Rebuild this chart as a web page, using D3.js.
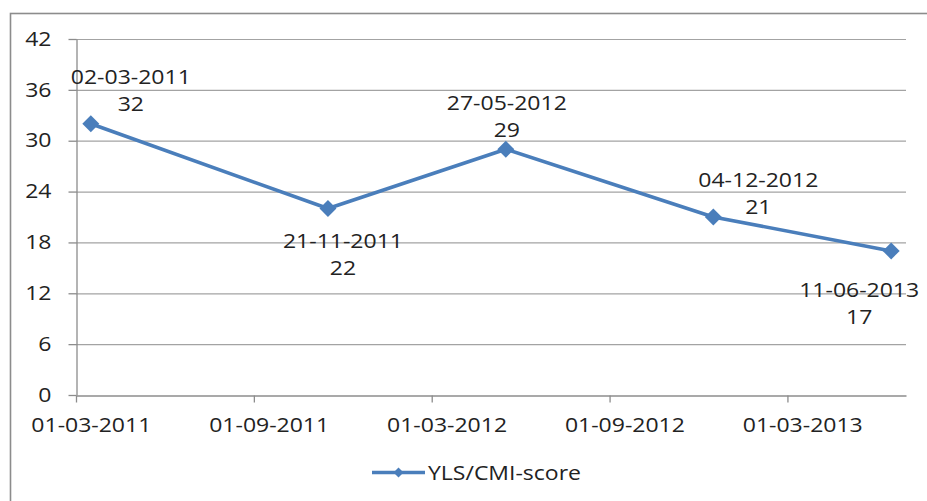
<!DOCTYPE html>
<html>
<head>
<meta charset="utf-8">
<script src="https://cdn.jsdelivr.net/npm/d3@7"></script>
<style>
  html, body { margin: 0; padding: 0; background: #fff; }
  svg { display: block; }
  text { font-family: "Open Sans", "Noto Sans", sans-serif; font-size: 19.5px; fill: #222; }
  .sx-mid { transform-box: fill-box; transform-origin: center; transform: scaleX(1.18); }
  .sx-end { transform-box: fill-box; transform-origin: right center; transform: scaleX(1.18); }
  .sx-start { transform-box: fill-box; transform-origin: left center; transform: scaleX(1.18); }
</style>
</head>
<body>
<svg id="chart" width="927" height="501"></svg>
<script>
// ---- data ----
const dates = ["02-03-2011", "21-11-2011", "27-05-2012", "04-12-2012", "11-06-2013"];
const scores = [32, 22, 29, 21, 17];
const yTicks = [0, 6, 12, 18, 24, 30, 36, 42];
const xTickLabels = ["01-03-2011", "01-09-2011", "01-03-2012", "01-09-2012", "01-03-2013"];
const axisStart = "01-03-2011";
const axisEnd = "01-07-2013";
const seriesName = "YLS/CMI-score";

// ---- layout (label placement relative to each point) ----
const labelOffsets = [[40, -47], [15, 32], [1, -46], [45, -37], [-32, 39]];
const lineGap = 27;

const parse = d3.timeParse("%d-%m-%Y");
const start = parse(axisStart);
const nMonths = d3.timeMonth.count(start, parse(axisEnd));
const monthIdx = s => d3.timeMonth.count(start, d3.timeMonth.floor(parse(s)));

const svg = d3.select("#chart");
const blue = "#4A7EBB";

// outer chart border
svg.append("rect")
  .attr("x", 10.5).attr("y", 13.5).attr("width", 940).attr("height", 520)
  .attr("fill", "none").attr("stroke", "#8c8c8c").attr("stroke-width", 1.6);

const x = d3.scaleLinear().domain([0, nMonths]).range([76, 906]);
const y = d3.scaleLinear().domain([0, 42]).range([395, 39]);
const halfMonth = (x(1) - x(0)) / 2;

// gridlines
svg.append("g").selectAll("line").data(yTicks.filter(v => v > 0)).join("line")
  .attr("x1", x(0)).attr("x2", x(nMonths))
  .attr("y1", d => y(d) + 0.5).attr("y2", d => y(d) + 0.5)
  .attr("stroke", "#a3a3a3").attr("stroke-width", 1.2);

// y axis
const gy = svg.append("g").attr("transform", `translate(${x(0) + 0.5},0)`)
  .call(d3.axisLeft(y).tickValues(yTicks).tickSize(8).tickSizeOuter(0).tickPadding(17));
// x axis
const gx = svg.append("g").attr("transform", `translate(0,${y(0) + 0.5})`)
  .call(d3.axisBottom(x).tickValues(xTickLabels.map(monthIdx))
    .tickFormat((d, i) => xTickLabels[i]).tickSize(7).tickSizeOuter(0).tickPadding(16));

[gy, gx].forEach(g => {
  g.select(".domain").attr("stroke", "#8c8c8c").attr("stroke-width", 1.3);
  g.selectAll(".tick line").attr("stroke", "#8c8c8c").attr("stroke-width", 1.3);
  g.selectAll(".tick text").attr("fill", "#222").attr("font-size", 19.5)
    .attr("font-family", '"Open Sans", "Noto Sans", sans-serif');
});
gy.selectAll(".tick text").attr("class", "sx-end");
gx.selectAll(".tick text").attr("class", "sx-mid").attr("x", halfMonth);

// series
const pts = dates.map((d, i) => ({ date: d, v: scores[i], px: x(monthIdx(d) + 0.5), py: y(scores[i]) }));

svg.append("path").datum(pts)
  .attr("d", d3.line().x(d => d.px).y(d => d.py))
  .attr("fill", "none").attr("stroke", blue).attr("stroke-width", 3.6)
  .attr("stroke-linejoin", "round");

svg.append("g").selectAll("path").data(pts).join("path")
  .attr("d", d3.symbol(d3.symbolSquare, 144))
  .attr("transform", d => `translate(${d.px},${d.py}) rotate(45)`)
  .attr("fill", blue);

// data labels
const lab = svg.append("g").selectAll("g").data(pts).join("g")
  .attr("transform", (d, i) => `translate(${d.px + labelOffsets[i][0]},${d.py + labelOffsets[i][1]})`);
lab.append("text").attr("class", "sx-mid").attr("text-anchor", "middle").attr("dy", "0.36em")
  .text(d => d.date);
lab.append("text").attr("class", "sx-mid").attr("text-anchor", "middle").attr("y", lineGap).attr("dy", "0.36em")
  .text(d => d.v);

// legend
const lg = svg.append("g").attr("transform", "translate(372,472.5)");
lg.append("line").attr("x1", 0).attr("x2", 53).attr("stroke", blue).attr("stroke-width", 3.6);
lg.append("path").attr("d", d3.symbol(d3.symbolSquare, 50))
  .attr("transform", "translate(26.5,0) rotate(45)").attr("fill", blue);
lg.append("text").attr("class", "sx-start").attr("x", 56).attr("dy", "0.36em").text(seriesName);
</script>
</body>
</html>
